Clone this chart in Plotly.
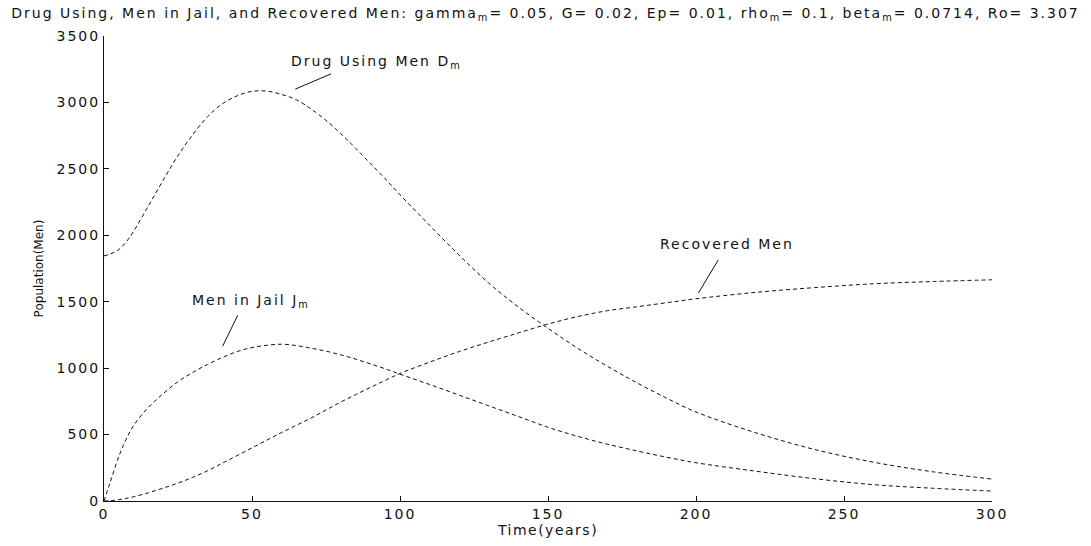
import plotly.graph_objects as go

# Time grid (years)
t = [0, 2, 5, 7.5, 10, 15, 20, 25, 30, 35, 40, 45, 50, 55, 60, 65, 70, 75, 80,
     85, 90, 95, 100, 110, 120, 130, 140, 150, 160, 170, 180, 190, 200, 220,
     240, 260, 280, 300]

# Drug using men D_m
drug_men = [1845, 1858, 1893, 1950, 2030, 2222, 2415, 2600, 2758, 2893, 2990,
            3050, 3083, 3085, 3060, 3020, 2950, 2865, 2765, 2655, 2540, 2425,
            2305, 2075, 1850, 1640, 1460, 1300, 1150, 1015, 890, 775, 670, 515,
            388, 292, 220, 165]

# Men in jail J_m
jail_men = [0, 135, 335, 465, 568, 705, 808, 898, 968, 1028, 1080, 1125, 1155,
            1172, 1180, 1170, 1150, 1128, 1100, 1068, 1032, 995, 955, 877, 797,
            716, 636, 555, 487, 428, 377, 330, 288, 225, 168, 123, 96, 75]

# Recovered men
recovered_men = [0, 2, 10, 20, 32, 62, 97, 135, 178, 228, 285, 342, 400, 458,
                 515, 570, 625, 685, 745, 800, 855, 908, 960, 1045, 1125, 1197,
                 1265, 1332, 1388, 1432, 1462, 1492, 1522, 1570, 1606, 1635,
                 1652, 1665]

x_ticks = [0, 50, 100, 150, 200, 250, 300]
y_ticks = [0, 500, 1000, 1500, 2000, 2500, 3000, 3500]

# Curve labels: (text, text position, pointer start, pointer end)
labels = [
    ("Drug Using Men D<sub>m</sub>", (92, 3305), (64.6, 3100), (76.7, 3215)),
    ("Men in Jail J<sub>m</sub>", (49.5, 1507), (40.1, 1166), (45.2, 1399)),
    ("Recovered Men", (210.4, 1934), (200.8, 1565), (207.5, 1814)),
]

FONT = "DejaVu Sans, Arial, sans-serif"
INK = "#111111"


def spaced(text, px=2):
    """Wrap text in a span with extra letter spacing."""
    return f'<span style="letter-spacing:{px}px">{text}</span>'


line_style = dict(color=INK, width=1, dash="4px,3px")

fig = go.Figure()
for series in (drug_men, jail_men, recovered_men):
    fig.add_trace(go.Scatter(x=t, y=series, mode="lines", line=line_style,
                             line_shape="spline", showlegend=False))

for text, (tx, ty), (x0, y0), (x1, y1) in labels:
    fig.add_annotation(x=tx, y=ty, xref="x", yref="y", text=spaced(text),
                       showarrow=False, font=dict(family=FONT, size=14, color=INK))
    fig.add_shape(type="line", x0=x0, y0=y0, x1=x1, y1=y1, xref="x", yref="y",
                  line=dict(color=INK, width=1))

title = ("Drug Using, Men in Jail, and Recovered Men: gamma<sub>m</sub>= 0.05, "
         "G= 0.02, Ep= 0.01, rho<sub>m</sub>= 0.1, beta<sub>m</sub>= 0.0714, Ro= 3.307")

fig.update_layout(
    width=1091, height=546,
    margin=dict(l=104, r=99, t=36, b=45),
    paper_bgcolor="white", plot_bgcolor="white",
    title=dict(text=spaced(title), x=0.5, xanchor="center", y=0.985, yanchor="top",
               font=dict(family=FONT, size=14, color=INK)),
    font=dict(family=FONT, size=14, color=INK),
)

fig.update_xaxes(range=[0, 300], tickvals=x_ticks,
                 ticktext=[spaced(v) for v in x_ticks],
                 ticks="inside", ticklen=5, tickcolor=INK,
                 tickfont=dict(family=FONT, size=14, color=INK),
                 showline=True, linecolor=INK, linewidth=1,
                 showgrid=False, zeroline=False, mirror=False,
                 title=dict(text=spaced("Time(years)", 1.5), standoff=1,
                            font=dict(family=FONT, size=14)))
fig.update_yaxes(range=[0, 3500], tickvals=y_ticks,
                 ticktext=[spaced(v) for v in y_ticks],
                 ticks="inside", ticklen=5, tickcolor=INK,
                 tickfont=dict(family=FONT, size=14, color=INK),
                 showline=True, linecolor=INK, linewidth=1,
                 showgrid=False, zeroline=False, mirror=False,
                 title=dict(text="Population(Men)", standoff=10,
                            font=dict(family=FONT, size=12)))

fig.write_html("out.html")
